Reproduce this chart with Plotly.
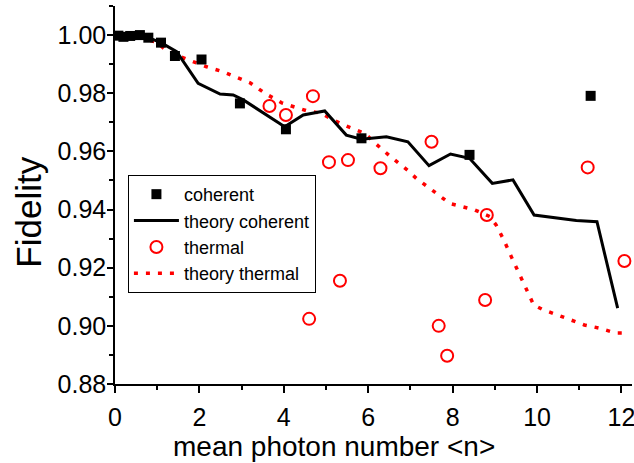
import plotly.graph_objects as go

coh_x = [0.08, 0.20, 0.36, 0.59, 0.79, 1.09, 1.42, 2.05, 2.96, 4.05, 5.84, 8.40, 11.27]
coh_y = [0.9998, 0.9994, 0.9997, 1.0000, 0.9991, 0.9974, 0.9928, 0.9916, 0.9765, 0.9676, 0.9645, 0.9588, 0.9791]

th_x = [3.66, 4.05, 4.69, 5.07, 5.52, 6.29, 7.50, 11.20, 8.81, 4.60, 5.33, 12.07, 8.77, 7.67, 7.87]
th_y = [0.9756, 0.9725, 0.9790, 0.9563, 0.9570, 0.9542, 0.9633, 0.9545, 0.9381,
        0.9024, 0.9155, 0.9223, 0.9089, 0.9000, 0.8897]

# theory curves
tcoh_x = [0.08, 0.59, 0.79, 1.09, 1.46, 1.97, 2.49, 2.80, 3.04, 4.02, 4.46, 4.97, 5.48, 5.84,
          6.43, 6.94, 7.44, 7.95, 8.40, 8.94, 9.43, 9.93, 10.93, 11.42, 11.91]
tcoh_y = [0.9998, 1.0000, 0.9991, 0.9974, 0.9943, 0.9834, 0.9797, 0.9794, 0.9777, 0.9685,
          0.9725, 0.9739, 0.9656, 0.9642, 0.9650, 0.9633, 0.9551, 0.9591, 0.9576, 0.9490,
          0.9502, 0.9381, 0.9362, 0.9358, 0.9061]

tth_x = [0.0, 0.5, 1.0, 1.18, 1.54, 1.97, 2.17, 2.56, 2.96, 3.20, 3.55, 3.95, 4.18, 4.54, 4.89,
         5.17, 5.52, 5.92, 6.15, 6.51, 6.94, 7.14, 7.53, 7.93, 8.52, 8.88, 9.03, 9.21, 9.39,
         9.57, 9.74, 9.92, 10.12, 10.51, 10.89, 11.12, 11.48, 11.87, 12.15]
tth_y = [1.0000, 0.9995, 0.9975, 0.9951, 0.9926, 0.9903, 0.9891, 0.9874, 0.9851, 0.9836,
         0.9800, 0.9767, 0.9756, 0.9740, 0.9731, 0.9708, 0.9685, 0.9662, 0.9630, 0.9584,
         0.9534, 0.9507, 0.9465, 0.9421, 0.9399, 0.9376, 0.9347, 0.9296, 0.9238, 0.9183,
         0.9126, 0.9072, 0.9057, 0.9035, 0.9015, 0.9003, 0.8992, 0.8975, 0.8975]

FONT = "Liberation Sans, Arial, sans-serif"

fig = go.Figure()

fig.add_trace(go.Scatter(
    x=tth_x, y=tth_y, mode="lines", name="theory thermal", legendrank=4,
    line=dict(color="#ff0000", width=3.5, dash="4px,8px"),
))
fig.add_trace(go.Scatter(
    x=tcoh_x, y=tcoh_y, mode="lines", name="theory coherent", legendrank=2,
    line=dict(color="black", width=3),
))
fig.add_trace(go.Scatter(
    x=th_x, y=th_y, mode="markers", name="thermal", legendrank=3, cliponaxis=False,
    marker=dict(symbol="circle-open", size=12, color="#ff0000", line=dict(width=2, color="#ff0000")),
))
fig.add_trace(go.Scatter(
    x=coh_x, y=coh_y, mode="markers", name="coherent", legendrank=1, cliponaxis=False,
    marker=dict(symbol="square", size=10, color="black"),
))

fig.update_layout(
    width=634,
    height=463,
    margin=dict(l=115, r=2, t=6, b=79),
    paper_bgcolor="white",
    plot_bgcolor="white",
    font=dict(family=FONT, color="black"),
    legend=dict(
        x=0.025, y=0.553, xanchor="left", yanchor="top",
        bgcolor="white", bordercolor="black", borderwidth=1,
        font=dict(size=18, family=FONT), tracegroupgap=0, itemwidth=45,
    ),
)

# axis titles sit off-centre in the reference, so place them as annotations
fig.add_annotation(
    text="mean photon number <n>", xref="paper", yref="paper",
    x=0.4236, y=-0.166, xanchor="center", yanchor="middle",
    showarrow=False, font=dict(size=28),
)
fig.add_annotation(
    text="Fidelity", xref="paper", yref="paper",
    x=-0.169, y=0.455, xanchor="center", yanchor="middle", textangle=-90,
    showarrow=False, font=dict(size=35),
)

fig.update_xaxes(
    range=[0, 12.25], dtick=2, tick0=0, automargin=False,
    showgrid=False, zeroline=False, ticklabeloverflow="allow", ticklabelstandoff=3,
    showline=True, linecolor="black", linewidth=1.5,
    ticks="outside", ticklen=7, tickwidth=1.5, tickcolor="black",
    minor=dict(dtick=1, ticks="outside", ticklen=4, tickwidth=1.5, tickcolor="black", showgrid=False),
    tickfont=dict(size=25),
)
fig.update_yaxes(
    range=[0.88, 1.01], dtick=0.02, tick0=0.88, tickformat=".2f", automargin=False,
    showgrid=False, zeroline=False, ticklabeloverflow="allow", ticklabelstandoff=-4,
    showline=True, linecolor="black", linewidth=1.5,
    ticks="outside", ticklen=6, tickwidth=1.5, tickcolor="black",
    minor=dict(dtick=0.01, ticks="outside", ticklen=4, tickwidth=1.5, tickcolor="black", showgrid=False),
    tickfont=dict(size=25),
)

# drop the default page margin so the figure sits at the window's corner
fig.write_html(
    "out.html",
    config={"displayModeBar": False},
    post_script="document.body.style.margin='0px';",
)
